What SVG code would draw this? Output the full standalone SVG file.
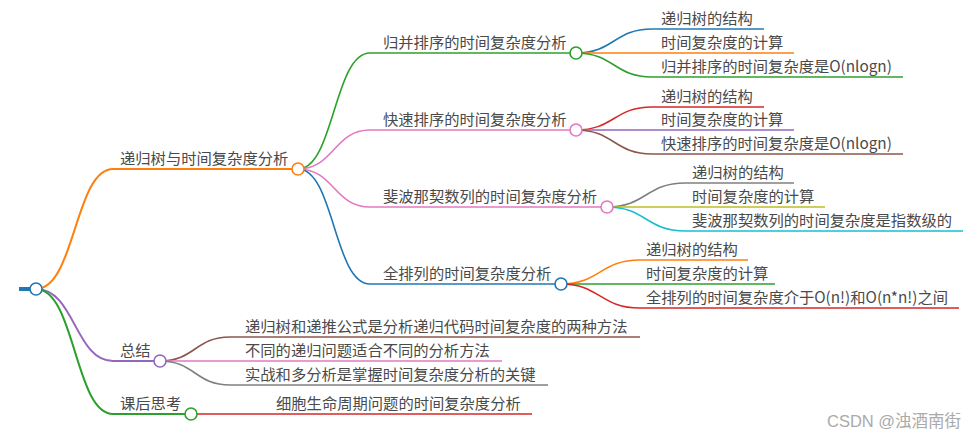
<svg xmlns="http://www.w3.org/2000/svg" width="978" height="439" viewBox="0 0 978 439">
<style>
text{font-family:"Noto Sans CJK SC","Noto Sans",sans-serif;font-size:15.3px;fill:#4a4a4a}
.c{fill:#fff;stroke-width:1.6}
.l1{stroke-width:2;fill:none}
.l2{stroke-width:1.6;fill:none}
.l3{stroke-width:1.5;fill:none}
.wm{font-family:"Liberation Sans","Noto Sans CJK SC",sans-serif;font-size:16.5px;fill:#aaa}
</style>
<rect width="978" height="439" fill="#fff"/>
<g id="connectors">
<path class="l1" stroke="#ff7f0e" d="M36 289 C75 289 75 169 113 169"/>
<path class="l1" stroke="#9467bd" d="M36 289 C75 289 75 361 113 361"/>
<path class="l1" stroke="#2ca02c" d="M36 289 C75 289 75 414 113 414"/>
<path class="l2" stroke="#2ca02c" d="M298 169 C334 169 334 53 370 53"/>
<path class="l2" stroke="#e377c2" d="M298 169 C334 169 334 130 370 130"/>
<path class="l2" stroke="#e377c2" d="M298 169 C334 169 334 207 370 207"/>
<path class="l2" stroke="#1f77b4" d="M298 169 C334 169 334 284 370 284"/>
<path class="l3" stroke="#1f77b4" d="M576 53 C614 53 614 29 652 29"/>
<path class="l3" stroke="#ff7f0e" d="M576 53 L652 53"/>
<path class="l3" stroke="#2ca02c" d="M576 53 C614 53 614 77 652 77"/>
<path class="l3" stroke="#d62728" d="M576 130 C614 130 614 107 652 107"/>
<path class="l3" stroke="#9467bd" d="M576 130 L652 130"/>
<path class="l3" stroke="#8c564b" d="M576 130 C614 130 614 154 652 154"/>
<path class="l3" stroke="#7f7f7f" d="M607 207 C646 207 646 183 685 183"/>
<path class="l3" stroke="#bcbd22" d="M607 207 L685 207"/>
<path class="l3" stroke="#17becf" d="M607 207 C646 207 646 231 685 231"/>
<path class="l3" stroke="#ff7f0e" d="M561 284 C600 284 600 260 640 260"/>
<path class="l3" stroke="#2ca02c" d="M561 284 L640 284"/>
<path class="l3" stroke="#d62728" d="M561 284 C600 284 600 308 640 308"/>
<path class="l2" stroke="#8c564b" d="M160 361 C195 361 195 337 230 337"/>
<path class="l2" stroke="#e377c2" d="M160 361 L230 361"/>
<path class="l2" stroke="#7f7f7f" d="M160 361 C195 361 195 385 230 385"/>
<path class="l2" stroke="#d62728" d="M191 414 L276 414"/>
</g>
<g id="root">
<line x1="19" y1="289" x2="36" y2="289" stroke="#1f77b4" stroke-width="4"/>
<circle class="c" cx="36" cy="289" r="6" stroke="#1f77b4"/>
</g>
<g id="n1">
<line class="l1" x1="113" y1="169" x2="298" y2="169" stroke="#ff7f0e"/>
<text x="120" y="164">递归树与时间复杂度分析</text>
<circle class="c" cx="298" cy="169" r="6" stroke="#ff7f0e"/>
</g>
<g id="n1-1">
<line class="l2" x1="370" y1="53" x2="576" y2="53" stroke="#2ca02c"/>
<text x="383" y="48">归并排序的时间复杂度分析</text>
<circle class="c" cx="576" cy="53" r="6" stroke="#2ca02c"/>
</g>
<g id="n1-1-1"><line class="l3" x1="652" y1="29" x2="764" y2="29" stroke="#1f77b4"/><text x="661" y="24">递归树的结构</text></g>
<g id="n1-1-2"><line class="l3" x1="652" y1="53" x2="794" y2="53" stroke="#ff7f0e"/><text x="661" y="48">时间复杂度的计算</text></g>
<g id="n1-1-3"><line class="l3" x1="652" y1="77" x2="903" y2="77" stroke="#2ca02c"/><text x="661" y="72">归并排序的时间复杂度是O(nlogn)</text></g>
<g id="n1-2">
<line class="l2" x1="370" y1="130" x2="576" y2="130" stroke="#e377c2"/>
<text x="383" y="125">快速排序的时间复杂度分析</text>
<circle class="c" cx="576" cy="130" r="6" stroke="#e377c2"/>
</g>
<g id="n1-2-1"><line class="l3" x1="652" y1="107" x2="764" y2="107" stroke="#d62728"/><text x="661" y="102">递归树的结构</text></g>
<g id="n1-2-2"><line class="l3" x1="652" y1="130" x2="794" y2="130" stroke="#9467bd"/><text x="661" y="125">时间复杂度的计算</text></g>
<g id="n1-2-3"><line class="l3" x1="652" y1="154" x2="903" y2="154" stroke="#8c564b"/><text x="661" y="149">快速排序的时间复杂度是O(nlogn)</text></g>
<g id="n1-3">
<line class="l2" x1="370" y1="207" x2="607" y2="207" stroke="#e377c2"/>
<text x="383" y="202">斐波那契数列的时间复杂度分析</text>
<circle class="c" cx="607" cy="207" r="6" stroke="#e377c2"/>
</g>
<g id="n1-3-1"><line class="l3" x1="685" y1="183" x2="794" y2="183" stroke="#7f7f7f"/><text x="692" y="178">递归树的结构</text></g>
<g id="n1-3-2"><line class="l3" x1="685" y1="207" x2="825" y2="207" stroke="#bcbd22"/><text x="692" y="202">时间复杂度的计算</text></g>
<g id="n1-3-3"><line class="l3" x1="685" y1="231" x2="963" y2="231" stroke="#17becf"/><text x="692" y="226">斐波那契数列的时间复杂度是指数级的</text></g>
<g id="n1-4">
<line class="l2" x1="370" y1="284" x2="561" y2="284" stroke="#1f77b4"/>
<text x="383" y="279">全排列的时间复杂度分析</text>
<circle class="c" cx="561" cy="284" r="6" stroke="#1f77b4"/>
</g>
<g id="n1-4-1"><line class="l3" x1="640" y1="260" x2="748" y2="260" stroke="#ff7f0e"/><text x="646" y="255">递归树的结构</text></g>
<g id="n1-4-2"><line class="l3" x1="640" y1="284" x2="775" y2="284" stroke="#2ca02c"/><text x="646" y="279">时间复杂度的计算</text></g>
<g id="n1-4-3"><line class="l3" x1="640" y1="308" x2="959" y2="308" stroke="#d62728"/><text x="646" y="303">全排列的时间复杂度介于O(n!)和O(n*n!)之间</text></g>
<g id="n2">
<line class="l1" x1="113" y1="361" x2="160" y2="361" stroke="#9467bd"/>
<text x="120" y="356">总结</text>
<circle class="c" cx="160" cy="361" r="6" stroke="#9467bd"/>
</g>
<g id="n2-1"><line class="l2" x1="230" y1="337" x2="640" y2="337" stroke="#8c564b"/><text x="245" y="332">递归树和递推公式是分析递归代码时间复杂度的两种方法</text></g>
<g id="n2-2"><line class="l2" x1="230" y1="361" x2="502" y2="361" stroke="#e377c2"/><text x="245" y="356">不同的递归问题适合不同的分析方法</text></g>
<g id="n2-3"><line class="l2" x1="230" y1="385" x2="548" y2="385" stroke="#7f7f7f"/><text x="245" y="380">实战和多分析是掌握时间复杂度分析的关键</text></g>
<g id="n3">
<line class="l1" x1="113" y1="414" x2="191" y2="414" stroke="#2ca02c"/>
<text x="120" y="409">课后思考</text>
<circle class="c" cx="191" cy="414" r="6" stroke="#2ca02c"/>
</g>
<g id="n3-1"><line class="l2" x1="276" y1="414" x2="532" y2="414" stroke="#d62728"/><text x="276" y="409">细胞生命周期问题的时间复杂度分析</text></g>
<text class="wm" x="827" y="427">CSDN @浊酒南街</text>
</svg>
